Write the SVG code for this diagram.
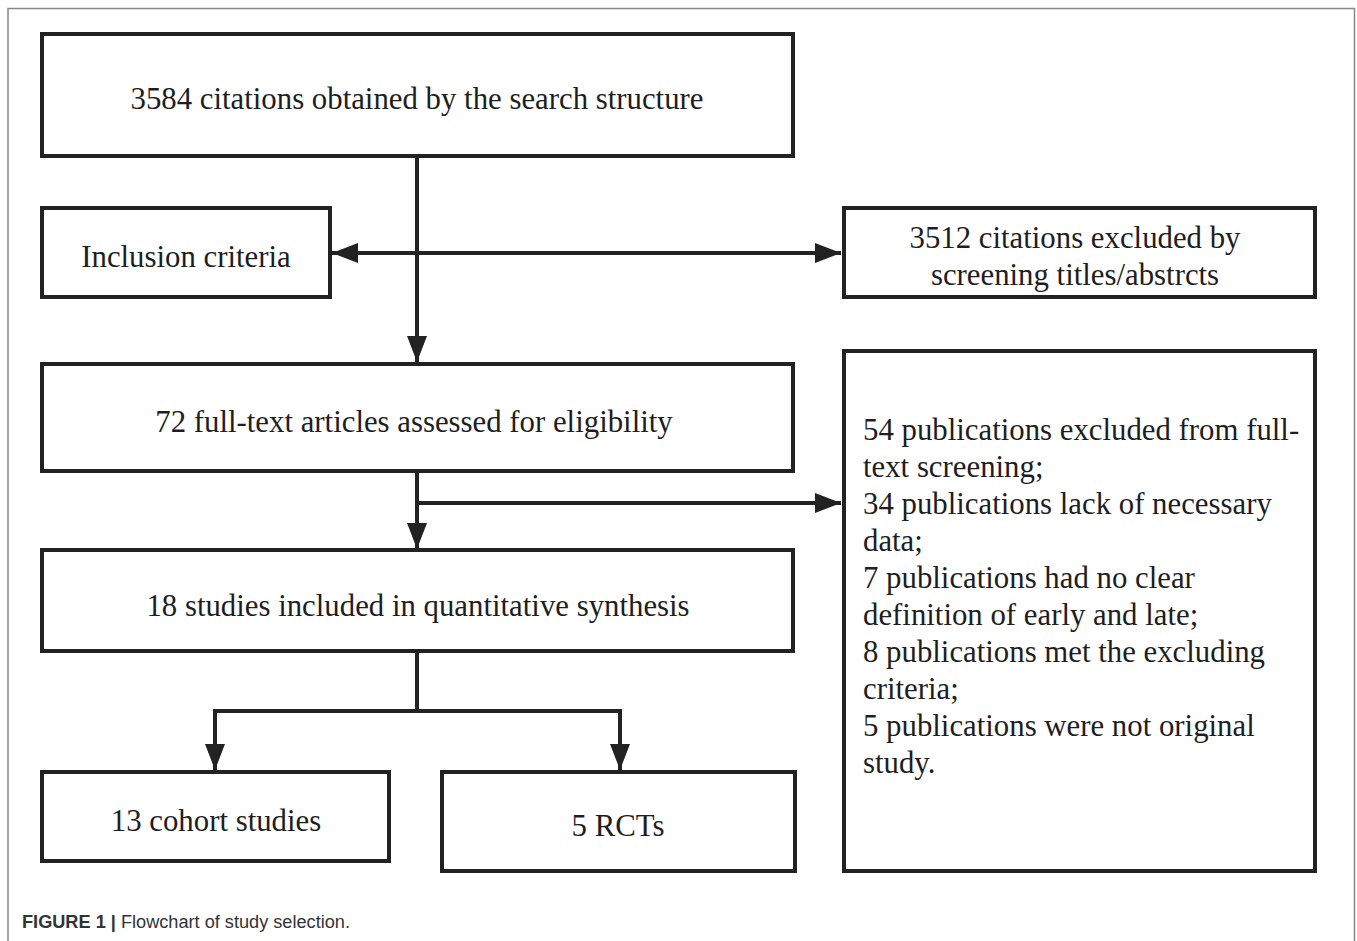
<svg xmlns="http://www.w3.org/2000/svg" width="1357" height="941" viewBox="0 0 1357 941">
<style>
.box{fill:#fff;stroke:#222;stroke-width:4}
.t{font-family:"Liberation Serif","Times New Roman",serif;font-size:30.8px;fill:#1e1e1e}
.c{text-anchor:middle}
.ln{stroke:#222;stroke-width:4;fill:none}
.cap{font-family:"Liberation Sans",Arial,sans-serif;font-size:18px;fill:#333}
</style>
<defs>
<marker id="ah" markerWidth="26" markerHeight="20" refX="26" refY="10" orient="auto" markerUnits="userSpaceOnUse">
<path d="M0,0 L26,10 L0,20 Z" fill="#222"/>
</marker>
<marker id="ahs" markerWidth="26" markerHeight="20" refX="26" refY="10" orient="auto-start-reverse" markerUnits="userSpaceOnUse">
<path d="M0,0 L26,10 L0,20 Z" fill="#222"/>
</marker>
</defs>
<rect x="0" y="0" width="1357" height="941" fill="#fff"/>
<path d="M8,941 L8,8.5 L1354.5,8.5 L1354.5,941" fill="none" stroke="#888" stroke-width="1.5"/>

<g id="connectors">
<line class="ln" x1="417" y1="156" x2="417" y2="362" marker-end="url(#ah)"/>
<line class="ln" x1="332" y1="253" x2="841" y2="253" marker-start="url(#ahs)" marker-end="url(#ahs)"/>
<line class="ln" x1="417" y1="471" x2="417" y2="549" marker-end="url(#ah)"/>
<line class="ln" x1="417" y1="503" x2="841" y2="503" marker-end="url(#ah)"/>
<polyline class="ln" points="417,651 417,711"/>
<polyline class="ln" points="215,711 620,711"/>
<line class="ln" x1="215" y1="709" x2="215" y2="770" marker-end="url(#ah)"/>
<line class="ln" x1="620" y1="709" x2="620" y2="770" marker-end="url(#ah)"/>
</g>

<g id="n1"><rect class="box" x="42" y="34" width="751" height="122"/>
<text class="t c" x="417" y="109">3584 citations obtained by the search structure</text></g>

<g id="n2"><rect class="box" x="42" y="208" width="288" height="89"/>
<text class="t c" x="186" y="267">Inclusion criteria</text></g>

<g id="n3"><rect class="box" x="844" y="208" width="471" height="89"/>
<text class="t c" x="1075" y="248">3512 citations excluded by</text>
<text class="t c" x="1075" y="285">screening titles/abstrcts</text></g>

<g id="n4"><rect class="box" x="42" y="364" width="751" height="107"/>
<text class="t c" x="414" y="432">72 full-text articles assessed for eligibility</text></g>

<g id="n5"><rect class="box" x="844" y="351" width="471" height="520"/>
<text class="t" x="863" y="440">54 publications excluded from full-</text>
<text class="t" x="863" y="477">text screening;</text>
<text class="t" x="863" y="514">34 publications lack of necessary</text>
<text class="t" x="863" y="551">data;</text>
<text class="t" x="863" y="588">7 publications had no clear</text>
<text class="t" x="863" y="625">definition of early and late;</text>
<text class="t" x="863" y="662">8 publications met the excluding</text>
<text class="t" x="863" y="699">criteria;</text>
<text class="t" x="863" y="736">5 publications were not original</text>
<text class="t" x="863" y="773">study.</text></g>

<g id="n6"><rect class="box" x="42" y="550" width="751" height="101"/>
<text class="t c" x="418" y="616">18 studies included in quantitative synthesis</text></g>

<g id="n7"><rect class="box" x="42" y="772" width="347" height="89"/>
<text class="t c" x="216" y="831">13 cohort studies</text></g>

<g id="n8"><rect class="box" x="442" y="772" width="353" height="99"/>
<text class="t c" x="618" y="836">5 RCTs</text></g>

<text class="cap" x="22" y="928" textLength="328" lengthAdjust="spacingAndGlyphs"><tspan font-weight="bold">FIGURE 1 |</tspan> Flowchart of study selection.</text>
</svg>
